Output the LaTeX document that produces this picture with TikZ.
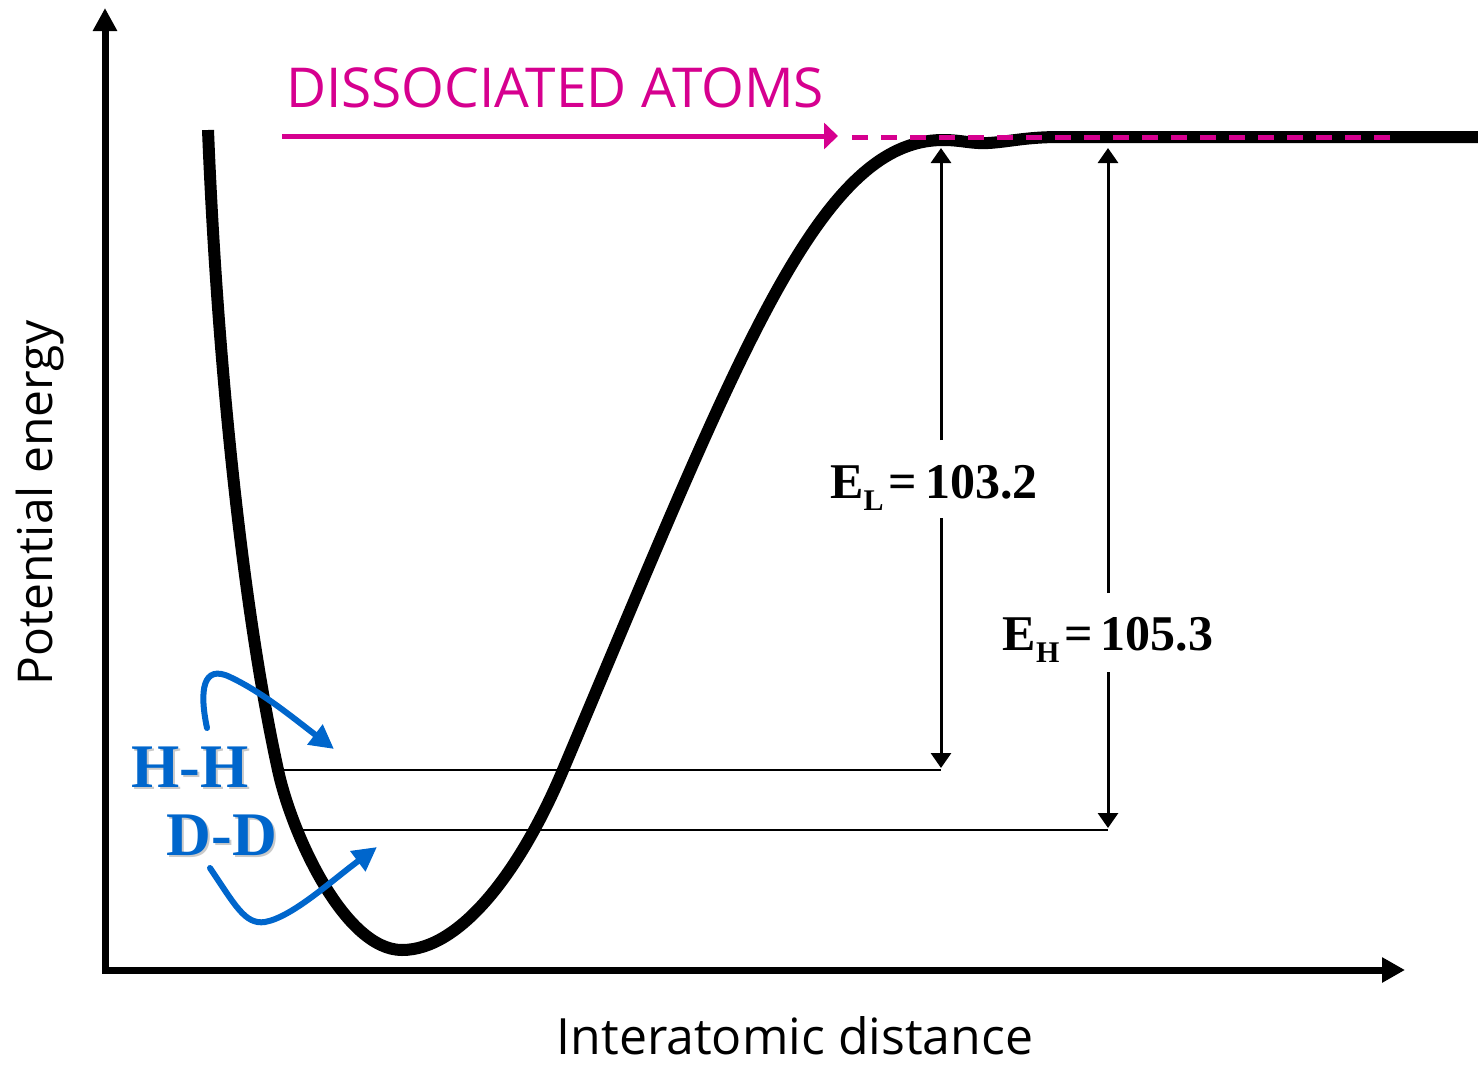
\documentclass[tikz,border=0pt]{standalone}
\usepackage{fontspec}
\setmainfont{Liberation Serif}
\newfontfamily\comic{Open Sans}
\usetikzlibrary{arrows.meta}
\definecolor{pinkc}{RGB}{214,0,143}
\definecolor{hblue}{RGB}{0,102,204}
\newcommand{\lowsub}[1]{\raisebox{-12pt}{\fontsize{30}{30}\selectfont #1}}
\tikzset{
  axisline/.style={line width=7pt, line join=miter, {Triangle[length=23pt,width=23pt]}-{Triangle[length=23pt,width=24pt]}},
  curveline/.style={line width=12pt, line cap=butt, line join=round},
  dimline/.style={line width=3pt, -{Triangle[length=15pt,width=20pt]}},
  levelline/.style={line width=1.5pt},
  pinkarrow/.style={pinkc, line width=5pt, -{Triangle[length=14pt,width=26pt]}},
  pinkdash/.style={pinkc, line width=5pt, dash pattern=on 16pt off 13pt},
  bluearrow/.style={hblue, line width=6pt, line cap=round, -{Triangle[length=24pt,width=24pt]}},
  eqlabel/.style={font=\fontsize{50}{56}\selectfont\bfseries, inner sep=0pt, anchor=base},
  moltext/.style={font=\fontsize{62}{66}\selectfont\bfseries, inner sep=0pt, anchor=base},
  comictext/.style={font=\comic\fontsize{44}{50}\selectfont, inner sep=0pt},
}
\begin{document}
\begin{tikzpicture}[x=1pt,y=-1pt]
\useasboundingbox (0,0) rectangle (1478,1066);
% axes
\coordinate (ytip) at (105,8);
\coordinate (origin) at (105,970);
\coordinate (xtip) at (1405,970);
\draw[axisline] (ytip) -- (origin) -- (xtip);
% potential curve
\draw[curveline] (208,130)
  .. controls (218,380) and (245,620) .. (278,770)
  .. controls (292,835) and (345,950) .. (402,950)
  .. controls (460,950) and (520,872) .. (563,770)
  .. controls (738,356) and (818,140) .. (943,140)
  .. controls (962,140) and (972,144) .. (988,143)
  .. controls (1008,142) and (1025,137) .. (1060,137)
  -- (1478,137);
% dissociated atoms
\node[comictext, pinkc, font=\comic\fontsize{55}{60}\selectfont] (diss) at (555,88) {DISSOCIATED ATOMS};
\coordinate (pinkS) at (282,136);
\coordinate (pinkE) at (838,136);
\draw[pinkarrow] (pinkS) -- (pinkE);
\coordinate (dashS) at (852,137);
\coordinate (dashE) at (1400,137);
\draw[pinkdash] (dashS) -- (dashE);
% energy levels
\coordinate (hhL) at (280,770);
\coordinate (elBot) at (941,768);
\coordinate (ddL) at (298,830);
\coordinate (ehBot) at (1108,828);
\draw[levelline] (hhL) -- (941,770);
\draw[levelline] (ddL) -- (1108,830);
% EL dimension
\node[eqlabel] (el) at (934,498) {E\lowsub{L}\hspace{5pt}=\hspace{8pt}103.2};
\coordinate (elTop) at (941,148);
\coordinate (elGapT) at (941,440);
\coordinate (elGapB) at (941,518);
\draw[dimline] (elGapT) -- (elTop);
\draw[dimline] (elGapB) -- (elBot);
% EH dimension
\node[eqlabel] (eh) at (1108,650) {E\lowsub{H}\hspace{5pt}=\hspace{8pt}105.3};
\coordinate (ehTop) at (1108,148);
\coordinate (ehGapT) at (1108,593);
\coordinate (ehGapB) at (1108,672);
\draw[dimline] (ehGapT) -- (ehTop);
\draw[dimline] (ehGapB) -- (ehBot);
% molecules
\node[moltext, black!35, opacity=0.6] at (192,789) {H-H};
\node[moltext, hblue] (hh) at (190,787) {H-H};
\node[moltext, black!35, opacity=0.6] at (224,857) {D-D};
\node[moltext, hblue] (dd) at (222,855) {D-D};
\coordinate (b1s) at (207,728);
\coordinate (b1e) at (334,749);
\draw[bluearrow] (b1s) .. controls (199,690) and (203,664) .. (230,677)
   .. controls (262,692) and (292,717) .. (b1e);
\coordinate (b2s) at (210,868);
\coordinate (b2e) at (377,847);
\draw[bluearrow] (b2s) .. controls (235,905) and (245,925) .. (265,922)
   .. controls (292,917) and (330,882) .. (b2e);
% axis labels
\node[comictext, rotate=90, font=\comic\fontsize{48}{52}\selectfont] (ylab) at (40,503) {Potential energy};
\node[comictext, anchor=base, font=\comic\fontsize{50}{54}\selectfont] (xlab) at (795,1054) {Interatomic distance};
\end{tikzpicture}
\end{document}
